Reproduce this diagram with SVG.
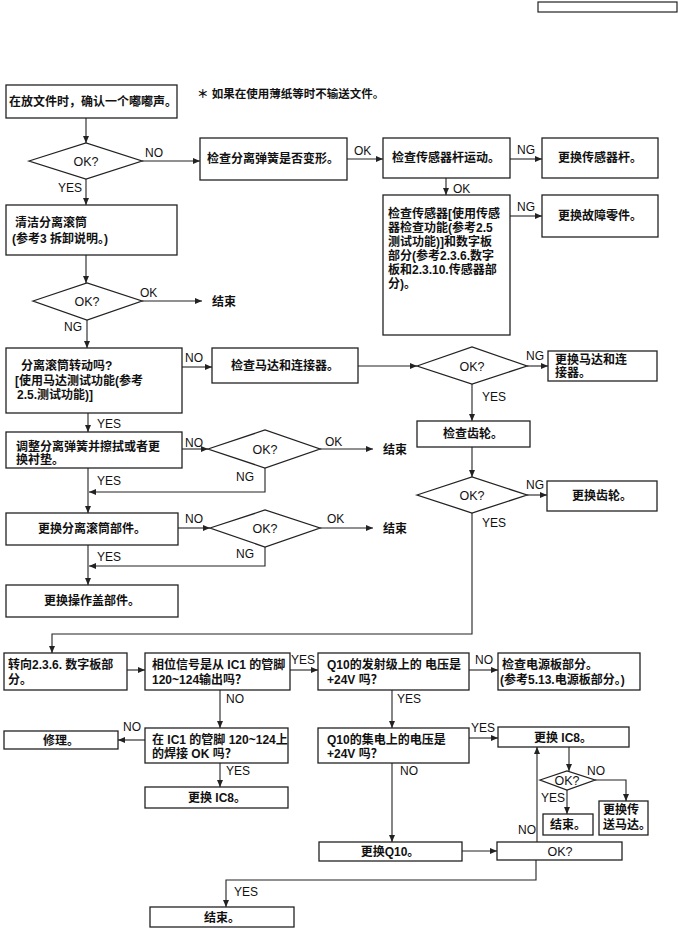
<svg xmlns="http://www.w3.org/2000/svg" width="680" height="928" viewBox="0 0 680 928">
<defs>
<marker id="ah" markerWidth="7" markerHeight="6" refX="7" refY="3" orient="auto" markerUnits="userSpaceOnUse">
<path d="M0,0 L7,3 L0,6 z" fill="#222"/>
</marker>
<style>
.b{fill:#fff;stroke:#222;stroke-width:1.3}
.t{font-family:"Liberation Sans","Noto Sans CJK SC",sans-serif;font-size:12px;font-weight:bold;fill:#111}
.c{text-anchor:middle}
.l{font-family:"Liberation Sans","Noto Sans CJK SC",sans-serif;font-size:12px;fill:#111}
.k{font-family:"Liberation Sans",sans-serif;font-size:12.5px;fill:#111;text-anchor:middle}
.e{fill:none;stroke:#222;stroke-width:1.1;marker-end:url(#ah)}
</style>
</defs>
<rect x="538" y="2" width="139" height="10" fill="#fff" stroke="#222" stroke-width="1.2"/>
<text class="t" x="197" y="98" style="font-size:11.5px">＊ 如果在使用薄纸等时不输送文件。</text>

<g id="n1"><rect class="b" x="6" y="85" width="171" height="33"/><text class="t c" x="93" y="106">在放文件时，确认一个嘟嘟声。</text></g>
<g id="d1"><polygon class="b" points="29,161 86,143 142,161 86,179"/><text class="k" x="86" y="166">OK?</text></g>
<g id="n2"><rect class="b" x="200" y="138" width="147" height="42"/><text class="t c" x="273" y="163">检查分离弹簧是否变形。</text></g>
<g id="n3"><rect class="b" x="383" y="138" width="127" height="40"/><text class="t c" x="446" y="162">检查传感器杆运动。</text></g>
<g id="n4"><rect class="b" x="542" y="138" width="116" height="40"/><text class="t c" x="600" y="162">更换传感器杆。</text></g>
<g id="n5"><rect class="b" x="383" y="195" width="127" height="140"/>
<text class="t" x="388" y="218">检查传感器[使用传感</text>
<text class="t" x="388" y="232">器检查功能(参考2.5</text>
<text class="t" x="388" y="246">测试功能)]和数字板</text>
<text class="t" x="388" y="260">部分(参考2.3.6.数字</text>
<text class="t" x="388" y="274">板和2.3.10.传感器部</text>
<text class="t" x="388" y="288">分)。</text></g>
<g id="n6"><rect class="b" x="542" y="195" width="116" height="42"/><text class="t c" x="600" y="220">更换故障零件。</text></g>
<g id="n7"><rect class="b" x="6" y="205" width="171" height="50"/><text class="t" x="15" y="227">清洁分离滚筒</text><text class="t" x="12" y="243">(参考3 拆卸说明。)</text></g>
<g id="d2"><polygon class="b" points="33,301 87,283 142,301 87,320"/><text class="k" x="87" y="306">OK?</text></g>
<g id="end1"><text class="t" x="212" y="306">结束</text></g>
<g id="n8"><rect class="b" x="6" y="348" width="176" height="65"/>
<text class="t" x="21" y="370">分离滚筒转动吗?</text>
<text class="t" x="15" y="385">[使用马达测试功能(参考</text>
<text class="t" x="17" y="399">2.5.测试功能)]</text></g>
<g id="n9"><rect class="b" x="212" y="348" width="146" height="35"/><text class="t c" x="285" y="370">检查马达和连接器。</text></g>
<g id="d3"><polygon class="b" points="417,366 472,347 527,366 472,384"/><text class="k" x="472" y="371">OK?</text></g>
<g id="n10"><rect class="b" x="548" y="351" width="109" height="30"/><text class="t" x="555" y="364">更换马达和连</text><text class="t" x="555" y="377">接器。</text></g>
<g id="n11"><rect class="b" x="417" y="421" width="113" height="26"/><text class="t c" x="473" y="438">检查齿轮。</text></g>
<g id="d4"><polygon class="b" points="417,495 472,477 527,495 472,513"/><text class="k" x="472" y="500">OK?</text></g>
<g id="n12"><rect class="b" x="547" y="481" width="110" height="30"/><text class="t c" x="602" y="500">更换齿轮。</text></g>
<g id="n14"><rect class="b" x="6" y="432" width="176" height="36"/><text class="t" x="16" y="451">调整分离弹簧并擦拭或者更</text><text class="t" x="16" y="464">换衬垫。</text></g>
<g id="d5"><polygon class="b" points="208,449 265,430 320,449 265,468"/><text class="k" x="265" y="454">OK?</text></g>
<g id="end2"><text class="t" x="383" y="454">结束</text></g>
<g id="n15"><rect class="b" x="6" y="513" width="172" height="32"/><text class="t c" x="92" y="533">更换分离滚筒部件。</text></g>
<g id="d6"><polygon class="b" points="210,528 265,510 320,528 265,547"/><text class="k" x="265" y="533">OK?</text></g>
<g id="end3"><text class="t" x="383" y="533">结束</text></g>
<g id="n16"><rect class="b" x="6" y="585" width="172" height="32"/><text class="t c" x="92" y="605">更换操作盖部件。</text></g>
<g id="n13"><rect class="b" x="4" y="653" width="123" height="37"/><text class="t" x="8" y="669">转向2.3.6. 数字板部</text><text class="t" x="8" y="684">分。</text></g>
<g id="n17"><rect class="b" x="145" y="653" width="145" height="37"/><text class="t" x="152" y="669">相位信号是从 IC1 的管脚</text><text class="t" x="152" y="684">120~124输出吗？</text></g>
<g id="n18"><rect class="b" x="318" y="653" width="151" height="37"/><text class="t" x="327" y="669">Q10的发射级上的 电压是</text><text class="t" x="327" y="684">+24V 吗？</text></g>
<g id="n19"><rect class="b" x="498" y="653" width="142" height="37"/><text class="t" x="502" y="669">检查电源板部分。</text><text class="t" x="500" y="684">(参考5.13.电源板部分。)</text></g>
<g id="n21"><rect class="b" x="145" y="728" width="143" height="35"/><text class="t" x="152" y="744">在 IC1 的管脚 120~124上</text><text class="t" x="152" y="758">的焊接 OK 吗？</text></g>
<g id="n22"><rect class="b" x="4" y="731" width="114" height="18"/><text class="t c" x="61" y="745">修理。</text></g>
<g id="n23"><rect class="b" x="145" y="787" width="143" height="21"/><text class="t c" x="217" y="802">更换 IC8。</text></g>
<g id="n20"><rect class="b" x="318" y="728" width="151" height="35"/><text class="t" x="327" y="744">Q10的集电上的电压是</text><text class="t" x="327" y="758">+24V 吗？</text></g>
<g id="n24"><rect class="b" x="498" y="727" width="131" height="20"/><text class="t c" x="563" y="742">更换 IC8。</text></g>
<g id="d7"><polygon class="b" points="540,780 567,771 595,780 567,790"/><text class="k" x="567" y="785">OK?</text></g>
<g id="n25"><rect class="b" x="599" y="801" width="49" height="34"/><text class="t" x="603" y="814">更换传</text><text class="t" x="603" y="829">送马达。</text></g>
<g id="n26"><rect class="b" x="543" y="814" width="50" height="21"/><text class="t c" x="568" y="829">结束。</text></g>
<g id="n27"><rect class="b" x="497" y="842" width="125" height="18"/><text class="k" x="560" y="856">OK?</text></g>
<g id="n28"><rect class="b" x="319" y="842" width="143" height="19"/><text class="t c" x="390" y="856">更换Q10。</text></g>
<g id="n29"><rect class="b" x="150" y="907" width="144" height="20"/><text class="t c" x="222" y="922">结束。</text></g>

<g id="connectors">
<path class="e" d="M86,118 V143"/>
<path class="e" d="M142,161 H200"/>
<path class="e" d="M347,159 H383"/>
<path class="e" d="M510,159 H542"/>
<path class="e" d="M446,178 V195"/>
<path class="e" d="M510,216 H542"/>
<path class="e" d="M86,179 V205"/>
<path class="e" d="M86,255 V283"/>
<path class="e" d="M142,301 H202"/>
<path class="e" d="M87,320 V348"/>
<path class="e" d="M182,367 H212"/>
<path class="e" d="M358,366 H417"/>
<path class="e" d="M527,366 H548"/>
<path class="e" d="M472,384 V421"/>
<path class="e" d="M472,447 V477"/>
<path class="e" d="M527,495 H547"/>
<path class="e" d="M472,513 V634 H52 V653"/>
<path class="e" d="M88,413 V432"/>
<path class="e" d="M182,449 H208"/>
<path class="e" d="M320,449 H373"/>
<path class="e" d="M265,468 V492 H89"/>
<path class="e" d="M88,468 V513"/>
<path class="e" d="M178,528 H210"/>
<path class="e" d="M320,528 H373"/>
<path class="e" d="M265,547 V566 H89"/>
<path class="e" d="M88,545 V585"/>
<path class="e" d="M127,670 H145"/>
<path class="e" d="M290,670 H318"/>
<path class="e" d="M469,670 H498"/>
<path class="e" d="M220,690 V728"/>
<path class="e" d="M392,690 V728"/>
<path class="e" d="M145,740 H118"/>
<path class="e" d="M220,763 V787"/>
<path class="e" d="M469,738 H498"/>
<path class="e" d="M569,747 V771"/>
<path class="e" d="M595,780 H626 V801"/>
<path class="e" d="M567,790 V814"/>
<path class="e" d="M537,842 V747"/>
<path class="e" d="M392,763 V842"/>
<path class="e" d="M462,851 H497"/>
<path class="e" d="M536,860 V880 H226 V907"/>
<g class="l">
<text x="145" y="157">NO</text>
<text x="58" y="192">YES</text>
<text x="354" y="155">OK</text>
<text x="517" y="154">NG</text>
<text x="453" y="193">OK</text>
<text x="517" y="211">NG</text>
<text x="140" y="297">OK</text>
<text x="64" y="331">NG</text>
<text x="185" y="362">NO</text>
<text x="526" y="360">NG</text>
<text x="482" y="401">YES</text>
<text x="97" y="428">YES</text>
<text x="185" y="447">NO</text>
<text x="325" y="446">OK</text>
<text x="236" y="481">NG</text>
<text x="97" y="485">YES</text>
<text x="526" y="489">NG</text>
<text x="482" y="527">YES</text>
<text x="185" y="523">NO</text>
<text x="327" y="523">OK</text>
<text x="236" y="558">NG</text>
<text x="97" y="561">YES</text>
<text x="291" y="664">YES</text>
<text x="475" y="664">NO</text>
<text x="226" y="703">NO</text>
<text x="397" y="703">YES</text>
<text x="123" y="731">NO</text>
<text x="471" y="732">YES</text>
<text x="226" y="775">YES</text>
<text x="400" y="775">NO</text>
<text x="587" y="775">NO</text>
<text x="541" y="802">YES</text>
<text x="518" y="834">NO</text>
<text x="234" y="896">YES</text>
</g>
</g>
</svg>
